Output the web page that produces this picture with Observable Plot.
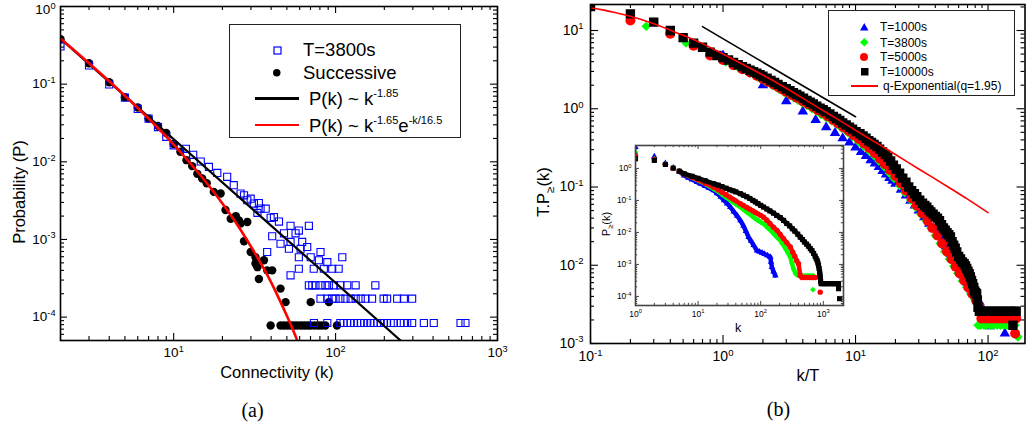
<!DOCTYPE html>
<html><head><meta charset="utf-8">
<script src="https://cdn.jsdelivr.net/npm/d3@7"></script>
<script src="https://cdn.jsdelivr.net/npm/@observablehq/plot@0.6"></script>
<style>
body{margin:0;background:#fff;}
#wrap{position:relative;width:1026px;height:425px;overflow:hidden;background:#fff;font-family:"Liberation Sans",Arial,Helvetica,sans-serif;color:#000;}
.abs{position:absolute;}
.t{position:absolute;white-space:nowrap;line-height:1;}
.sp{position:relative;font-size:11px;}
.box{position:absolute;border:1.2px solid #222;background:#fff;box-sizing:border-box;}
</style></head><body><div id="wrap"></div>
<script>
// ---------------- DATA ----------------
// Panel (a): degree distribution, [k, P]
const leftT3800 = [[2,0.306],[3,0.174],[4,0.099],[5,0.067],[6,0.048],[7,0.036],[8,0.028],[9,0.021],[10,0.0163],
 [11.9,0.0147],[13.2,0.0123],[14.7,0.0101],[16.5,0.0086],[18.6,0.0072],[21.4,0.0064],[23.5,0.005],[25.9,0.0039],
 [27.2,0.0037],[28.5,0.0032],[29.9,0.00335],[31.3,0.0029],[33.6,0.00294],[32.9,0.0022],[34.4,0.0025],[37,0.00249],
 [39.7,0.0019],[41.6,0.00194],[44.7,0.0017],[52.7,0.0015],[59.3,0.0013],[68.4,0.0015],[40.6,0.0011],[48,0.0012],
 [56.6,0.0012],[45.7,0.00088],[52.7,0.00093],[62.2,0.00093],[51.5,0.00076],[60.8,0.00076],[66.8,0.0008],
 [37.8,0.00069],[59.3,0.00059],[70.2,0.00059],[80.7,0.00069],[78.9,0.00054],[88.9,0.00051],[110,0.00059],
 [59.3,0.00042],[73.3,0.00042],[84.6,0.00042],[95.3,0.00042],[104.5,0.00042],[52.7,0.000345],
 [68.4,0.000257],[71.8,0.000257],[75.1,0.000257],[80.7,0.000257],[86.5,0.000257],[90.8,0.000257],[97.7,0.000257],
 [107,0.000257],[118,0.000257],[133,0.000257],[176,0.000257],
 [80.7,0.000173],[88.9,0.000173],[95.3,0.000173],[100,0.000173],[107,0.000173],[115,0.000173],[124,0.000173],
 [133,0.000173],[143,0.000173],[153,0.000173],[168,0.000173],[198,0.000173],[208,0.000173],[240,0.000173],
 [264,0.000173],[297,0.000173],
 [73.5,0.000084],[88.9,0.000084],[107,0.000084],[112,0.000084],[118,0.000084],[124,0.000084],[130,0.000084],
 [136,0.000084],[143,0.000084],[150,0.000084],[157,0.000084],[164,0.000084],[172,0.000084],[181,0.000084],
 [190,0.000084],[199,0.000084],[208,0.000084],[219,0.000084],[229,0.000084],[252,0.000084],[264,0.000084],
 [277,0.000084],[297,0.000084],[351,0.000084],[404,0.000084],[591,0.000084],[634,0.000084]];
const leftSuccessive = [[2,0.38],[3,0.186],[4,0.106],[5,0.068],[6,0.05],[7,0.036],[8,0.029],[9,0.0235],[10,0.017],
 [11,0.0135],[12,0.0105],[13,0.0088],[14,0.007],[15,0.0061],[16,0.0053],[17.7,0.0041],[19.5,0.0039],[20.9,0.0024],
 [22.5,0.00185],[24.2,0.002],[25.3,0.00176],[28.5,0.00168],[25.9,0.0016],[27.2,0.00095],[29.9,0.00069],[32,0.00059],
 [32,0.00049],[36.1,0.00054],[32.9,0.00044],[33.6,0.00031],[37.8,0.0004],[40.6,0.0004],[45.7,0.000233],
 [49.1,0.000156],[70.2,0.000156],[91,0.000156],
 [39.7,0.000078],[45.7,0.000078],[48,0.000078],[50.5,0.000078],[53,0.000078],[55.4,0.000078],[58,0.000078],
 [61,0.000078],[64,0.000078],[67,0.000078],[70,0.000078],[74,0.000078],[78,0.000078],[82,0.000078],
 [86.5,0.000078],[102,0.000078]];
const leftPowerFit = [[2,0.384],[252,0.00005]];                  // P(k) ~ k^-1.85
const leftCutoffFit = [[2,0.387],[3,0.186],[4,0.109],[5,0.071],[7,0.0361],[10,0.0167],[14,0.0075],[20,0.0029],
 [25,0.00149],[30,0.00081],[35,0.00047],[40,0.00028],[45,0.000168],[50,0.000104],[55,0.0000657],[58,0.00005]];

// Panel (b): T.P>=(k) against k/T, [k/T, T.P]
const mainT1000 = [[1,4.8],[2,2.0],[3,1.25],[4,0.92],[5,0.72],[6,0.58],[7,0.49],[8,0.42],[9,0.37],[10,0.32],
 [11,0.28],[12,0.25],[13,0.22],[14,0.2],[15,0.18],[16,0.16],[17,0.145],[18,0.13],[19,0.12],[20,0.11],[22,0.092],
 [24,0.078],[26,0.067],[28,0.058],[30,0.05],[33,0.041],[36,0.034],[39,0.029],[42,0.025],[45,0.021],[48,0.0175],
 [52,0.014],[56,0.0115],[60,0.0093],[65,0.0074],[70,0.006],[75,0.0049],[80,0.0041],[86,0.0034],[92,0.0027],
 [98,0.0022],[103,0.00166],[134,0.00134]];
const mainT3800 = [[0.263,11.3],[0.526,6.9],[0.789,4.9],[1.05,3.95],[1.32,3.3],[1.58,2.85],[1.84,2.5],[2.1,2.2],
 [2.37,1.97],[2.63,1.78],[2.89,1.62],[3.16,1.49],[3.42,1.38],[3.68,1.28],[3.95,1.19],[4.3,1.1],[4.7,1.0],[5.1,0.92],
 [5.5,0.84],[6,0.77],[6.6,0.7],[7.2,0.63],[7.9,0.56],[8.7,0.5],[9.5,0.44],[10.5,0.38],[11.5,0.33],[12.6,0.29],
 [13.8,0.25],[15,0.215],[16.5,0.18],[18,0.15],[19.5,0.128],[21.5,0.104],[23.5,0.085],[26,0.068],[28.5,0.055],
 [31,0.045],[34,0.037],[37,0.03],[40,0.024],[43.5,0.019],[47,0.015],[51,0.012],[55,0.0097],[59,0.0079],[64,0.0063],
 [69,0.0052],[74,0.0043],[79,0.0037],[82,0.0033],[84,0.00171],[88,0.00171],[93,0.00171],[98,0.00171],[104,0.00171],
 [110,0.00171],[117,0.00171],[124,0.00171],[131,0.00171],[139,0.00171],[146,0.00171],[153,0.00171],[160,0.00171],
 [168,0.00121]];
const mainT5000 = [[0.2,13.4],[0.4,9.1],[0.6,6.4],[0.8,4.8],[1.0,4.2],[1.2,3.6],[1.4,3.2],[1.6,2.9],[1.8,2.65],
 [2.0,2.4],[2.2,2.2],[2.4,2.05],[2.6,1.9],[2.8,1.76],[3.0,1.65],[3.3,1.5],[3.6,1.38],[4.0,1.25],[4.4,1.14],[4.8,1.05],
 [5.2,0.96],[5.7,0.88],[6.2,0.8],[6.8,0.72],[7.4,0.65],[8.1,0.58],[8.9,0.52],[9.7,0.46],[10.6,0.41],[11.6,0.36],
 [12.7,0.315],[14,0.27],[15.3,0.23],[16.7,0.195],[18.2,0.165],[20,0.138],[22,0.112],[24,0.09],[26.5,0.072],[29,0.058],
 [32,0.046],[35,0.037],[38,0.03],[41.5,0.024],[45,0.019],[49,0.015],[53,0.012],[57,0.0096],[61,0.0079],[66,0.0064],
 [71,0.0052],[76,0.0043],[81,0.0036],[86,0.003],[89,0.00209],[94,0.00209],[100,0.00209],[106,0.00209],[113,0.00209],
 [120,0.00209],[128,0.00209],[136,0.00209],[145,0.00209],[154,0.00209],[163,0.00209],[160,0.00134]];
const mainT10000 = [[0.1,20.3],[0.2,16.3],[0.3,12.8],[0.4,10.0],[0.5,8.1],[0.6,6.9],[0.7,6.1],[0.8,5.3],[0.9,4.8],
 [1.0,4.5],[1.1,4.2],[1.2,3.9],[1.3,3.65],[1.4,3.45],[1.5,3.27],[1.6,3.1],[1.7,2.97],[1.8,2.85],[1.9,2.72],[2.0,2.6],
 [2.15,2.45],[2.3,2.3],[2.45,2.17],[2.6,2.05],[2.8,1.92],[3.0,1.8],[3.2,1.7],[3.4,1.6],[3.6,1.52],[3.8,1.45],
 [4.05,1.36],[4.3,1.28],[4.55,1.21],[4.8,1.15],[5.1,1.08],[5.4,1.02],[5.7,0.97],[6.0,0.92],[6.4,0.86],[6.8,0.8],
 [7.2,0.75],[7.6,0.71],[8.0,0.66],[8.5,0.62],[9.0,0.58],[9.5,0.55],[10.1,0.51],[10.8,0.48],[11.4,0.45],[12,0.42],
 [12.6,0.39],[13.2,0.37],[13.8,0.35],[14.5,0.33],[15.2,0.305],[16,0.28],[16.8,0.26],[17.5,0.24],[18.4,0.215],
 [19.3,0.19],[20.3,0.17],[21.5,0.15],[22.7,0.13],[24,0.115],[25.2,0.1],[26.5,0.09],[27.8,0.082],[29,0.075],
 [30.5,0.068],[32,0.062],[33.3,0.058],[34.5,0.055],[35.8,0.051],[37,0.048],[38.5,0.045],[40,0.042],[41.5,0.04],
 [43,0.037],[44.5,0.033],[46,0.03],[47.5,0.028],[49,0.026],[50.5,0.0245],[52,0.023],[53.5,0.02],[55,0.018],
 [56.5,0.0165],[58,0.0148],[60,0.013],[62,0.012],[64,0.011],[66,0.0105],[67.5,0.0098],[69,0.0091],[70.5,0.0084],
 [72,0.0078],[73.5,0.0071],[75,0.0064],[76.5,0.0058],[78,0.0052],[79,0.0047],[80,0.0045],[81,0.0044],[82,0.0043],
 [83,0.0036],[84,0.0029],[86,0.00258],[90,0.00258],[95,0.00258],[100,0.00258],[106,0.00258],[112,0.00258],
 [118,0.00258],[125,0.00258],[132,0.00258],[140,0.00258],[148,0.00258],[156,0.00258],[163,0.00258],[154,0.00171]];
const qExpFit = [[0.1,19.6],[0.15,17.1],[0.2,15.2],[0.3,12.2],[0.4,10.1],[0.5,8.7],[0.7,6.8],[1,5.0],[1.5,3.5],
 [2,2.7],[3,1.83],[5,1.08],[7,0.77],[10,0.53],[15,0.35],[20,0.26],[30,0.17],[50,0.1],[70,0.07],[100,0.047]];
const slopeGuide = [[0.7,11.2],[10,0.79]];

// Inset: P>=(k) against k, [k, P]
const insetT1000 = [[1,4.6],[2,2.37],[3,1.45],[4,1.05],[5,0.8],[6,0.6],[7,0.51],[8,0.45],[9.6,0.373],[11,0.33],
 [13,0.28],[15,0.24],[17.7,0.205],[20,0.165],[23,0.13],[26,0.1],[29,0.08],[32.7,0.062],[37,0.045],[42,0.033],
 [47.3,0.0237],[53,0.016],[58,0.011],[64,0.0071],[70,0.0054],[77,0.004],[87,0.0027],[95,0.0025],[105,0.0023],
 [115,0.0021],[128,0.0019],[142,0.0017],[146,0.0012],[151,0.00082],[160,0.0006],[171,0.00045]];
const insetT3800 = [[1,3.2],[2,2.0],[3,1.35],[4,1.02],[5,0.82],[6,0.67],[8,0.52],[10,0.42],[13,0.33],[17.7,0.232],
 [21,0.19],[24,0.155],[28,0.125],[32,0.104],[36,0.089],[40,0.077],[47.3,0.0618],[53,0.052],[60,0.043],[67,0.037],
 [75,0.031],[82,0.027],[90,0.024],[100,0.021],[111,0.0187],[125,0.015],[140,0.0122],[155,0.01],[170,0.0082],
 [187,0.0067],[205,0.0056],[225,0.0043],[250,0.0031],[272,0.0023],[297,0.0017],[315,0.0011],[335,0.00073],
 [360,0.00052],[385,0.00046],[428,0.00044],[470,0.00044],[520,0.00044],[570,0.00044],[620,0.00044],[690,0.00044]];
const insetT3800Extra = [[683,0.000162]];
const insetT5000 = [[1,2.55],[2,1.9],[3,1.34],[4,1.02],[5,0.82],[6,0.67],[8,0.53],[10,0.44],[13,0.345],[17.7,0.26],
 [21,0.215],[24,0.18],[28,0.15],[32,0.127],[36,0.11],[40,0.097],[47.3,0.079],[53,0.069],[60,0.06],[67,0.053],
 [75,0.047],[82,0.042],[90,0.038],[100,0.034],[111,0.03],[125,0.024],[140,0.019],[160,0.0145],[182,0.0116],
 [205,0.0086],[230,0.0065],[260,0.0048],[297,0.0035],[325,0.0024],[350,0.0018],[375,0.0013],[402,0.00105],
 [428,0.00045],[455,0.00039],[500,0.00039],[550,0.00039],[600,0.00039],[650,0.00039],[700,0.00039],[743,0.00039]];
const insetT5000Extra = [[892,0.000136]];
const insetT10000 = [[1,2.0],[2,1.78],[3,1.33],[4,1.02],[5,0.82],[6,0.68],[8,0.57],[10,0.49],[13,0.41],[17.7,0.333],
 [21,0.3],[24,0.27],[28,0.24],[32,0.215],[36,0.2],[40,0.185],[47.3,0.162],[53,0.145],[60,0.13],[67,0.115],[75,0.1],
 [82,0.09],[90,0.08],[100,0.07],[111,0.062],[125,0.054],[140,0.047],[160,0.04],[180,0.034],[205,0.029],[232,0.0237],
 [260,0.019],[290,0.016],[320,0.013],[350,0.011],[390,0.0088],[428,0.0071],[465,0.006],[500,0.005],[540,0.0043],
 [580,0.0037],[620,0.0031],[658,0.0027],[700,0.0022],[740,0.0018],[770,0.0015],[800,0.0013],[820,0.0011],
 [838,0.00093],[855,0.00075],[870,0.0006],[882,0.0005],[892,0.0004],[905,0.0003],[920,0.00025],[980,0.00025],
 [1050,0.00025],[1130,0.00025],[1220,0.00025],[1320,0.00025],[1420,0.00025],[1530,0.00025],[1640,0.00025],
 [1750,0.00025],[1750,0.000174]];
const insetT10000Extra = [[1820,0.000085]];

// tick label values
const leftXTicks = [10,100,1000];
const leftYTicks = [1e-4,1e-3,1e-2,1e-1,1];
const mainXTicks = [0.1,1,10,100];
const mainYTicks = [1e-3,1e-2,1e-1,1,10];
const insetXTicks = [1,10,100,1000];
const insetYTicks = [1e-4,1e-3,1e-2,1e-1,1];

// ---------------- HELPERS ----------------
const FONT = '"Liberation Sans", Arial, Helvetica, sans-serif';
const BLUE="#0000ff", GREEN="#00ff00", RED="#ff0000";
const wrap = document.getElementById("wrap");
const X = d => d[0], Y = d => d[1];
const sup10 = d => "10^" + Math.round(Math.log10(d)).toString();

function minorTicks(lo, hi){
  const out=[];
  for(let e=Math.floor(Math.log10(lo))-1;e<=Math.ceil(Math.log10(hi));e++)
    for(let m=2;m<=9;m++){const v=m*Math.pow(10,e); if(v>=lo*0.999&&v<=hi*1.001) out.push(v);}
  return out;
}
function boxTicks(xM,xm,yM,ym,fw,fh,L,l,sw,col){
  const o={stroke:col||"black",strokeWidth:sw};
  return [
    Plot.tickX(xM,{x:d=>d,insetTop:fh-L,...o}), Plot.tickX(xM,{x:d=>d,insetBottom:fh-L,...o}),
    Plot.tickX(xm,{x:d=>d,insetTop:fh-l,...o}), Plot.tickX(xm,{x:d=>d,insetBottom:fh-l,...o}),
    Plot.tickY(yM,{y:d=>d,insetRight:fw-L,...o}), Plot.tickY(yM,{y:d=>d,insetLeft:fw-L,...o}),
    Plot.tickY(ym,{y:d=>d,insetRight:fw-l,...o}), Plot.tickY(ym,{y:d=>d,insetLeft:fw-l,...o})
  ];
}
function supify(svg){
  const NS="http://www.w3.org/2000/svg";
  svg.querySelectorAll("text").forEach(t=>{
    const s=t.textContent; if(!s.includes("^")) return;
    const [b,e]=s.split("^");
    while(t.firstChild) t.removeChild(t.firstChild);
    const a=document.createElementNS(NS,"tspan"); a.textContent=b;
    const c=document.createElementNS(NS,"tspan"); c.textContent=e;
    c.setAttribute("font-size","68%"); c.setAttribute("dy","-0.6em");
    t.append(a,c);
    if(s==="10^0" && t.closest('[aria-label="y-axis tick label"]') && svg.dataset.panel==="a"){
      const tr=t.getAttribute("transform")||""; t.setAttribute("transform",tr+" translate(0,3.5)");
    }
  });
}
function place(svg,left,top,name){
  svg.style.position="absolute"; svg.style.left=left+"px"; svg.style.top=top+"px";
  svg.dataset.panel=name; supify(svg); wrap.appendChild(svg);
}
function txt(html,x,y,size,opt={}){
  const d=document.createElement("div"); d.className="t"; d.innerHTML=html;
  d.style.left=x+"px"; d.style.top=y+"px"; d.style.fontSize=size+"px";
  if(opt.font) d.style.fontFamily=opt.font;
  const tx = opt.left ? "translate(0,-50%)" : "translate(-50%,-50%)";
  d.style.transform = tx + (opt.rot ? ` rotate(${opt.rot}deg)` : "");
  wrap.appendChild(d); return d;
}
function sym(kind,cx,cy,s,color,filled){
  const NS="http://www.w3.org/2000/svg";
  const svg=document.createElementNS(NS,"svg");
  svg.setAttribute("width",s+4); svg.setAttribute("height",s+4);
  svg.style.position="absolute"; svg.style.left=(cx-(s+4)/2)+"px"; svg.style.top=(cy-(s+4)/2)+"px";
  const c=(s+4)/2, h=s/2; let el;
  if(kind==="square"){el=document.createElementNS(NS,"rect");el.setAttribute("x",c-h);el.setAttribute("y",c-h);el.setAttribute("width",s);el.setAttribute("height",s);}
  else if(kind==="circle"){el=document.createElementNS(NS,"circle");el.setAttribute("cx",c);el.setAttribute("cy",c);el.setAttribute("r",h);}
  else if(kind==="triangle"){el=document.createElementNS(NS,"path");el.setAttribute("d",`M${c},${c-h}L${c+h},${c+h*0.75}L${c-h},${c+h*0.75}Z`);}
  else {el=document.createElementNS(NS,"path");el.setAttribute("d",`M${c},${c-h}L${c+h},${c}L${c},${c+h}L${c-h},${c}Z`);}
  if(filled){el.setAttribute("fill",color);} else {el.setAttribute("fill","none");el.setAttribute("stroke",color);el.setAttribute("stroke-width",1.2);}
  svg.appendChild(el); wrap.appendChild(svg);
}
function hline(x1,x2,y,color,w){
  const d=document.createElement("div"); d.className="abs";
  d.style.left=x1+"px"; d.style.top=(y-w/2)+"px"; d.style.width=(x2-x1)+"px"; d.style.height=w+"px"; d.style.background=color;
  wrap.appendChild(d);
}

// ---------------- PANEL (a) ----------------
{
  const W=510,H=390,ml=60,mr=13,mt=6,mb=50, fw=W-ml-mr, fh=H-mt-mb;
  const xd=[2,1000], yd=[5e-5,1];
  const svg = Plot.plot({
    width:W,height:H,marginLeft:ml,marginRight:mr,marginTop:mt,marginBottom:mb,
    x:{type:"log",domain:xd}, y:{type:"log",domain:yd},
    style:{fontFamily:FONT,background:"transparent",overflow:"visible",color:"black"},
    marks:[
      Plot.dot(leftSuccessive,{x:X,y:Y,r:4.2,fill:"black",clip:true}),
      Plot.dot(leftT3800,{x:X,y:Y,symbol:"square",r:4,stroke:BLUE,fill:"none",strokeWidth:1.1,clip:true}),
      Plot.line(leftPowerFit,{x:X,y:Y,stroke:"black",strokeWidth:2.2,clip:true}),
      Plot.line(leftCutoffFit,{x:X,y:Y,stroke:RED,strokeWidth:2.6,curve:"monotone-x",clip:true}),
      ...boxTicks(leftXTicks,minorTicks(xd[0],xd[1]),leftYTicks,minorTicks(yd[0],yd[1]),fw,fh,7,4,1.1),
      Plot.frame({stroke:"black",strokeWidth:1.6}),
      Plot.axisX(leftXTicks,{anchor:"bottom",tickSize:0,tickPadding:7,tickFormat:sup10,fontSize:13.5,label:null}),
      Plot.axisY(leftYTicks,{anchor:"left",tickSize:0,tickPadding:5,tickFormat:sup10,fontSize:13.5,label:null})
    ]
  });
  place(svg,0,0,"a");
}
// ---------------- PANEL (b) ----------------
{
  const W=516,H=390,ml=80,mr=1.5,mt=4,mb=47, fw=W-ml-mr, fh=H-mt-mb;
  const xd=[0.1,190], yd=[1e-3,21.5];
  const svg = Plot.plot({
    width:W,height:H,marginLeft:ml,marginRight:mr,marginTop:mt,marginBottom:mb,
    x:{type:"log",domain:xd}, y:{type:"log",domain:yd},
    style:{fontFamily:FONT,background:"transparent",overflow:"visible",color:"black"},
    marks:[
      Plot.dot(mainT1000,{x:X,y:Y,symbol:"triangle",r:3.9,fill:BLUE,clip:true}),
      Plot.dot(mainT3800,{x:X,y:Y,symbol:"diamond2",r:4.2,fill:GREEN,clip:true}),
      Plot.dot(mainT5000,{x:X,y:Y,symbol:"circle",r:5,fill:RED,clip:true}),
      Plot.dot(mainT10000,{x:X,y:Y,symbol:"square",r:5.3,fill:"black",clip:true}),
      Plot.line(qExpFit,{x:X,y:Y,stroke:RED,strokeWidth:1.6,curve:"monotone-x",clip:true}),
      Plot.line(slopeGuide,{x:X,y:Y,stroke:"black",strokeWidth:1.6}),
      ...boxTicks(mainXTicks,minorTicks(xd[0],xd[1]),mainYTicks,minorTicks(yd[0],yd[1]),fw,fh,8,4,1.1),
      Plot.frame({stroke:"black",strokeWidth:1.6}),
      Plot.axisX(mainXTicks,{anchor:"bottom",tickSize:0,tickPadding:8,tickFormat:sup10,fontSize:14,label:null}),
      Plot.axisY(mainYTicks,{anchor:"left",tickSize:0,tickPadding:7,tickFormat:sup10,fontSize:14,label:null})
    ]
  });
  place(svg,510,0,"b");
}
// ---------------- INSET ----------------
{
  const W=255,H=195,ml=40,mr=7,mt=5,mb=30, fw=W-ml-mr, fh=H-mt-mb;
  const xd=[1,2100], yd=[5.2e-5,5.2];
  const body = d => d[0] >= 5;
  const svg = Plot.plot({
    width:W,height:H,marginLeft:ml,marginRight:mr,marginTop:mt,marginBottom:mb,
    x:{type:"log",domain:xd}, y:{type:"log",domain:yd},
    style:{fontFamily:FONT,background:"transparent",overflow:"visible",color:"black"},
    marks:[
      Plot.frame({fill:"white",stroke:"none"}),
      Plot.line(insetT1000.filter(body),{x:X,y:Y,stroke:BLUE,strokeWidth:4.5,clip:true}),
      Plot.dot(insetT1000,{x:X,y:Y,symbol:"triangle",r:2.4,fill:BLUE,clip:true}),
      Plot.line(insetT3800.filter(body),{x:X,y:Y,stroke:GREEN,strokeWidth:4.5,clip:true}),
      Plot.dot(insetT3800.concat(insetT3800Extra),{x:X,y:Y,symbol:"diamond2",r:2.6,fill:GREEN,clip:true}),
      Plot.line(insetT5000.filter(body),{x:X,y:Y,stroke:RED,strokeWidth:4.5,clip:true}),
      Plot.dot(insetT5000.concat(insetT5000Extra),{x:X,y:Y,symbol:"circle",r:2.7,fill:RED,clip:true}),
      Plot.line(insetT10000.filter(body),{x:X,y:Y,stroke:"black",strokeWidth:4.8,clip:true}),
      Plot.dot(insetT10000.concat(insetT10000Extra),{x:X,y:Y,symbol:"square",r:2.9,fill:"black",clip:true}),
      ...boxTicks(insetXTicks,minorTicks(xd[0],xd[1]),insetYTicks,minorTicks(yd[0],yd[1]),fw,fh,4,2.2,0.9,"#333"),
      Plot.frame({stroke:"#444",strokeWidth:1.6}),
      Plot.axisX(insetXTicks,{anchor:"bottom",tickSize:0,tickPadding:5,tickFormat:sup10,fontSize:8.5,label:null}),
      Plot.axisY(insetYTicks,{anchor:"left",tickSize:0,tickPadding:4,tickFormat:sup10,fontSize:8.5,label:null})
    ]
  });
  place(svg,595,140,"inset");
}

// ---------------- TITLES, LEGENDS, CAPTIONS ----------------
txt("Probability (P)",19,192,16.5,{rot:-90});
txt("Connectivity (k)",277,372,16.5);
txt("T.P<span style='position:relative;top:5px;font-size:70%'>≥</span>(k)",543,192,16.5,{rot:-90});
txt("k/T",808,375,16.5);
txt("k",738,328,12.5);
txt("P<span style='position:relative;top:3px;font-size:70%'>≥</span>(k)",606,224,11,{rot:-90});
txt("(a)",252.5,410,20,{font:'"Liberation Serif","DejaVu Serif",serif'});
txt("(b)",778.5,409,20,{font:'"Liberation Serif","DejaVu Serif",serif'});

// legend (a)
{ const b=document.createElement("div"); b.className="box";
  b.style.left="229px"; b.style.top="24px"; b.style.width="232px"; b.style.height="114px"; wrap.appendChild(b); }
sym("square",277,50,7,BLUE,false);
txt("T=3800s",303,50,18.5,{left:true});
sym("circle",277,73,7.5,"black",true);
txt("Successive",303,73,18.5,{left:true});
hline(255,299,98.5,"black",2.4);
txt("P(k) ~ k<span class='sp' style='top:-8px'>-1.85</span>",309,99,18.5,{left:true});
hline(255,299,125,RED,2.4);
txt("P(k) ~ k<span class='sp' style='top:-8px'>-1.65</span>e<span class='sp' style='top:-8px'>-k/16.5</span>",309,126,18.5,{left:true});

// legend (b)
{ const b=document.createElement("div"); b.className="box";
  b.style.left="828px"; b.style.top="10px"; b.style.width="187px"; b.style.height="86px"; wrap.appendChild(b); }
sym("triangle",864.3,27,8.5,BLUE,true);
txt("T=1000s",880,27,12,{left:true});
sym("diamond",864.3,42.5,8.5,GREEN,true);
txt("T=3800s",880,42.5,12,{left:true});
sym("circle",864.3,57.3,8,RED,true);
txt("T=5000s",880,57.3,12,{left:true});
sym("square",864.3,71.7,7.5,"black",true);
txt("T=10000s",880,71.7,12,{left:true});
hline(850.7,878.3,86,RED,1.6);
txt("q-Exponential(q=1.95)",883,86,12,{left:true});
</script></body></html>
